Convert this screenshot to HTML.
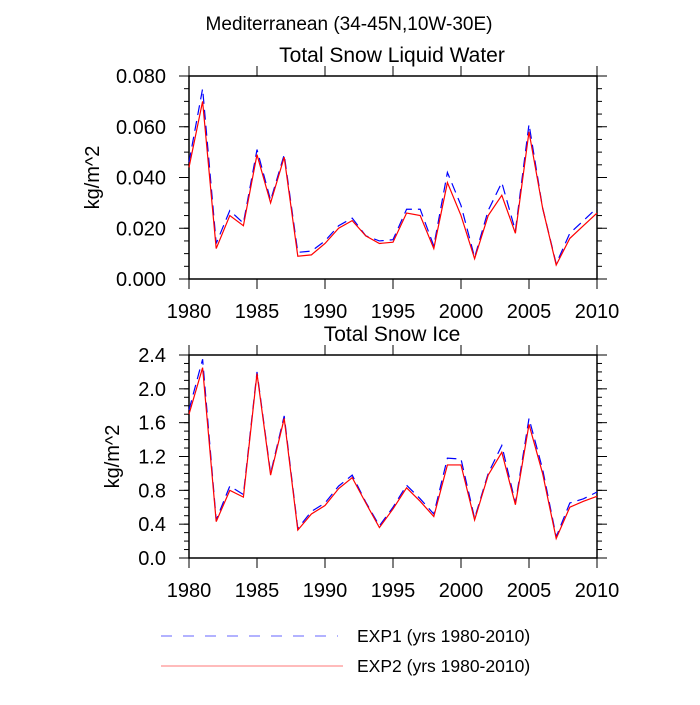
<!DOCTYPE html>
<html><head><meta charset="utf-8"><style>
body{margin:0;background:#fff;}
svg{font-family:"Liberation Sans",sans-serif;}
</style></head><body>
<svg id="c" width="700" height="700">
<text x="349" y="30" font-size="19" text-anchor="middle">Mediterranean (34-45N,10W-30E)</text>
</svg>
<script>
const years=[];for(let y=1980;y<=2010;y++)years.push(y);
const xTicks=[1980,1985,1990,1995,2000,2005,2010];
const liqExp1=[0.046,0.075,0.014,0.027,0.022,0.051,0.031,0.049,0.0105,0.011,0.015,0.021,0.024,0.017,0.015,0.0155,0.0275,0.0275,0.013,0.042,0.029,0.0085,0.027,0.038,0.019,0.061,0.028,0.006,0.018,0.023,0.028];
const liqExp2=[0.044,0.070,0.012,0.025,0.021,0.049,0.030,0.048,0.009,0.0095,0.014,0.020,0.023,0.017,0.014,0.0145,0.026,0.025,0.012,0.038,0.025,0.008,0.025,0.033,0.018,0.058,0.028,0.0055,0.016,0.021,0.026];
const iceExp1=[1.75,2.35,0.45,0.85,0.75,2.2,1.0,1.68,0.35,0.55,0.65,0.85,0.98,0.66,0.38,0.6,0.86,0.7,0.52,1.18,1.17,0.47,1.0,1.33,0.65,1.65,1.05,0.25,0.65,0.7,0.78];
const iceExp2=[1.7,2.25,0.43,0.8,0.72,2.18,0.98,1.65,0.33,0.52,0.62,0.82,0.95,0.65,0.36,0.58,0.83,0.67,0.49,1.1,1.1,0.45,0.98,1.25,0.63,1.58,1.0,0.23,0.6,0.67,0.73];
const liqTicks=["0.000","0.020","0.040","0.060","0.080"];
const iceTicks=["0.0","0.4","0.8","1.2","1.6","2.0","2.4"];
const svg=document.getElementById('c');const NS='http://www.w3.org/2000/svg';
function mk(t,a,p){const e=document.createElementNS(NS,t);for(const k in a)e.setAttribute(k,a[k]);(p||svg).appendChild(e);return e;}
function panel(name,top,bot,ymax,ticks,minorStep,title,s1,s2,ytx){
 const L=189,R=597;
 const g=mk('g',{});
 
 
 const sx=v=>L+(v-1980)/30*(R-L);
 const sy=v=>bot-v/ymax*(bot-top);
 const t=mk('text',{x:392,y:top-14,'font-size':21,'text-anchor':'middle'},g);t.textContent=title;
 
 
 const yl=mk('text',{x:0,y:0,'font-size':20,'text-anchor':'middle',transform:`translate(${ytx},${(top+bot)/2}) rotate(-90)`},g);yl.textContent='kg/m^2';
 
 
 for(let v=0;v<=ymax+1e-9;v+=minorStep){const y=sy(v);mk('line',{x1:L-5,x2:L,y1:y,y2:y,stroke:'#000'},g);mk('line',{x1:R,x2:R+5,y1:y,y2:y,stroke:'#000'},g);}
 ticks.forEach((s,i)=>{const v=parseFloat(s);const y=sy(v);
  mk('line',{x1:L-10,x2:L,y1:y,y2:y,stroke:'#000'},g);mk('line',{x1:R,x2:R+10,y1:y,y2:y,stroke:'#000'},g);
  const tx=mk('text',{x:L-23,y:y+7,'font-size':20,'text-anchor':'end'},g);tx.textContent=s;
  
  });
 xTicks.forEach(v=>{const x=sx(v);
  mk('line',{x1:x,x2:x,y1:bot,y2:bot+10,stroke:'#000'},g);mk('line',{x1:x,x2:x,y1:top-10,y2:top,stroke:'#000'},g);
  const tx=mk('text',{x:x,y:bot+39,'font-size':20,'text-anchor':'middle'},g);tx.textContent=v;
  
  });
 mk('rect',{x:L,y:top,width:R-L,height:bot-top,fill:'none',stroke:'#000','stroke-width':1.5},g);
 const p1=mk('polyline',{points:years.map((y,i)=>sx(y)+','+sy(s1[i])).join(' '),fill:'none',stroke:'#0000ff','stroke-width':1.2,'stroke-dasharray':'10,6'},g);
 
 
 const p2=mk('polyline',{points:years.map((y,i)=>sx(y)+','+sy(s2[i])).join(' '),fill:'none',stroke:'#ff0000','stroke-width':1.2},g);
 
 
}
panel('snow-liquid-panel',76,279,0.08,liqTicks,0.005,'Total Snow Liquid Water',liqExp1,liqExp2,99);
panel('snow-ice-panel',355,558,2.4,iceTicks,0.1,'Total Snow Ice',iceExp1,iceExp2,119);
const lg=mk('g',{});


mk('line',{x1:161,x2:338,y1:636,y2:636,stroke:'#6666ff','stroke-dasharray':'11,11'},lg);
mk('line',{x1:161,x2:343,y1:666,y2:666,stroke:'#ff7777'},lg);
const t1=mk('text',{x:357,y:642,'font-size':17.5},lg);t1.textContent='EXP1 (yrs 1980-2010)';


const t2=mk('text',{x:357,y:672,'font-size':17.5},lg);t2.textContent='EXP2 (yrs 1980-2010)';


</script>
</body></html>
